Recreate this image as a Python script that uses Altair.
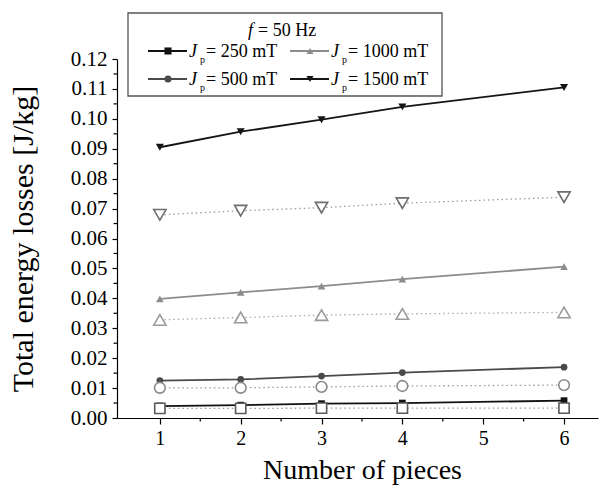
import altair as alt
import pandas as pd

# ---------------- data ----------------
pieces = [1, 2, 3, 4, 6]
jp250_solid = [0.0040, 0.0043, 0.0048, 0.0050, 0.0058]
jp250_open = [0.0032, 0.0032, 0.0033, 0.0033, 0.0033]
jp500_solid = [0.0125, 0.0129, 0.0140, 0.0152, 0.0170]
jp500_open = [0.0101, 0.0101, 0.0104, 0.0107, 0.0110]
jp1000_solid = [0.0398, 0.0420, 0.0441, 0.0464, 0.0506]
jp1000_open = [0.0328, 0.0336, 0.0344, 0.0348, 0.0353]
jp1500_solid = [0.0905, 0.0957, 0.0997, 0.1040, 0.1105]
jp1500_open = [0.0679, 0.0693, 0.0703, 0.0718, 0.0738]

y_ticks = [0.00, 0.01, 0.02, 0.03, 0.04, 0.05, 0.06, 0.07, 0.08, 0.09, 0.10, 0.11, 0.12]
y_minor = [0.005, 0.015, 0.025, 0.035, 0.045, 0.055, 0.065, 0.075, 0.085, 0.095, 0.105, 0.115]
x_ticks = [1, 2, 3, 4, 5, 6]
x_minor = [1.5, 2.5, 3.5, 4.5, 5.5]

legend_title = "= 50 Hz"
legend_labels = ["= 250 mT", "= 500 mT", "= 1000 mT", "= 1500 mT"]

FONT = "Liberation Serif"
W, H = 481, 359

xscale = alt.Scale(domain=[0.47, 6.42], nice=False, zero=False)
yscale = alt.Scale(domain=[0, 0.12], nice=False, zero=False)

xaxis = alt.Axis(values=x_ticks, format="d", title="Number of pieces",
                 titleX=245, titleY=60, titleBaseline="alphabetic",
                 titleFont=FONT, titleFontSize=28, titleFontWeight="normal", titleColor="black",
                 labelFont=FONT, labelFontSize=20, labelColor="black",
                 labelPadding=4, tickSize=6, tickColor="black", tickWidth=1.2,
                 domainColor="black", domainWidth=1.2, grid=False)
yaxis = alt.Axis(values=y_ticks, format=".2f", title="Total energy losses [J/kg]",
                 titleX=-85, titleY=H / 2, titleAngle=-90, titleAlign="center",
                 titleBaseline="alphabetic",
                 titleFont=FONT, titleFontSize=30, titleFontWeight="normal", titleColor="black",
                 labelFont=FONT, labelFontSize=21, labelColor="black",
                 labelPadding=5, tickSize=5, tickColor="black", tickWidth=1.2,
                 domainColor="black", domainWidth=1.2, grid=False)


def frame(vals):
    return pd.DataFrame({"pieces": pieces, "value": vals})


def enc_xy():
    return dict(
        x=alt.X("pieces:Q", scale=xscale, axis=xaxis),
        y=alt.Y("value:Q", scale=yscale, axis=yaxis),
    )


layers = []


def series(vals, shape, line_color, pt_stroke, filled, size, dashed):
    df = frame(vals)
    enc = enc_xy()
    if dashed:
        ln = alt.Chart(df).mark_line(color=line_color, strokeWidth=1.3,
                                     strokeDash=[1.5, 3]).encode(**enc)
    else:
        ln = alt.Chart(df).mark_line(color=line_color, strokeWidth=1.8).encode(**enc)
    if filled:
        pt = alt.Chart(df).mark_point(shape=shape, filled=True, color=pt_stroke,
                                      size=size, opacity=1).encode(**enc)
    else:
        pt = alt.Chart(df).mark_point(shape=shape, filled=False, color=pt_stroke,
                                      fill="white", fillOpacity=1, strokeWidth=1.6,
                                      size=size, opacity=1).encode(**enc)
    return [ln, pt]


# solid series
layers += series(jp1500_solid, "triangle-down", "#151515", "#151515", True, 65, False)
layers += series(jp1000_solid, "triangle-up", "#8c8c8c", "#8c8c8c", True, 60, False)
layers += series(jp500_solid, "circle", "#4a4a4a", "#4a4a4a", True, 45, False)
layers += series(jp250_solid, "square", "#111111", "#111111", True, 45, False)
# open (dotted) series
layers += series(jp1500_open, "triangle-down", "#9a9a9a", "#6e6e6e", False, 150, True)
layers += series(jp1000_open, "triangle-up", "#aaaaaa", "#9a9a9a", False, 150, True)
layers += series(jp500_open, "circle", "#9a9a9a", "#8a8a8a", False, 115, True)
layers += series(jp250_open, "square", "#9a9a9a", "#5a5a5a", False, 105, True)

# minor ticks
layers.append(alt.Chart(pd.DataFrame({"v": x_minor})).mark_rule(color="black", strokeWidth=1.2).encode(
    x=alt.X("v:Q", scale=xscale, axis=xaxis), y=alt.value(H), y2=alt.value(H + 3.5)))
layers.append(alt.Chart(pd.DataFrame({"v": y_minor})).mark_rule(color="black", strokeWidth=1.2).encode(
    y=alt.Y("v:Q", scale=yscale, axis=yaxis), x=alt.value(-3.5), x2=alt.value(0)))

# ---------------- legend (drawn) ----------------
layers.append(alt.Chart().mark_rect(fill="white", stroke="#555555", strokeWidth=1.3).encode(
    x=alt.value(11), x2=alt.value(325), y=alt.value(-46), y2=alt.value(37)))
layers.append(alt.Chart().mark_text(text="f", font=FONT, fontSize=18, fontStyle="italic",
                                    align="left", baseline="alphabetic").encode(
    x=alt.value(131), y=alt.value(-23)))
layers.append(alt.Chart().mark_text(text=legend_title, font=FONT, fontSize=18,
                                    align="left", baseline="alphabetic").encode(
    x=alt.value(141), y=alt.value(-23)))

leg_items = [
    (31, -8, legend_labels[0], "square", "#111111"),
    (31, 20, legend_labels[1], "circle", "#4a4a4a"),
    (173, -8, legend_labels[2], "triangle-up", "#8c8c8c"),
    (173, 20, legend_labels[3], "triangle-down", "#151515"),
]
for x0, yc, lab, shp, col in leg_items:
    layers.append(alt.Chart().mark_rule(color=col, strokeWidth=1.8).encode(
        x=alt.value(x0), x2=alt.value(x0 + 39), y=alt.value(yc)))
    layers.append(alt.Chart().mark_point(shape=shp, filled=True, color=col, size=50, opacity=1).encode(
        x=alt.value(x0 + 20), y=alt.value(yc)))
    layers.append(alt.Chart().mark_text(text="J", font=FONT, fontSize=18, fontStyle="italic",
                                        align="left", baseline="alphabetic").encode(
        x=alt.value(x0 + 41), y=alt.value(yc + 6)))
    layers.append(alt.Chart().mark_text(text="p", font=FONT, fontSize=10,
                                        align="left", baseline="alphabetic").encode(
        x=alt.value(x0 + 52), y=alt.value(yc + 12)))
    layers.append(alt.Chart().mark_text(text=lab, font=FONT, fontSize=18,
                                        align="left", baseline="alphabetic").encode(
        x=alt.value(x0 + 58), y=alt.value(yc + 6)))

chart = alt.layer(*layers).properties(
    width=W, height=H,
    autosize=alt.AutoSizeParams(type="none"),
    padding={"left": 117, "top": 59, "right": 3, "bottom": 76},
    background="white",
).configure_view(stroke=None)

chart.save("out.html", embed_options={"renderer": "svg", "actions": False})
